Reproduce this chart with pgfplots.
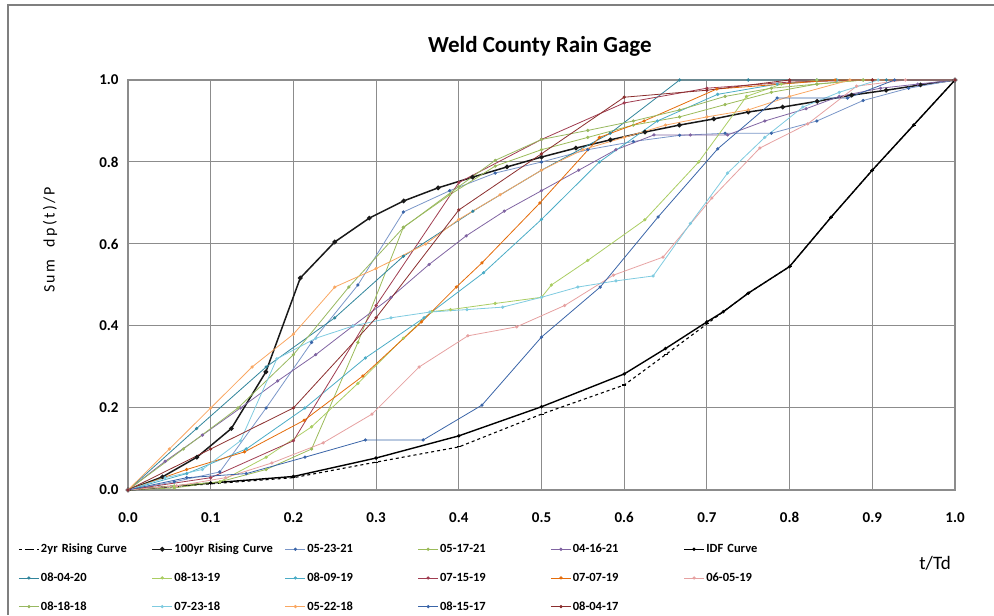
\documentclass[border=0pt]{standalone}
\usepackage{pgfplots}
\pgfplotsset{compat=1.18}
\usepackage{fontspec}
\setmainfont{Carlito}
\definecolor{cA}{HTML}{7A96C8}
\definecolor{cB}{HTML}{9BBB59}
\definecolor{cC}{HTML}{8064A2}
\definecolor{cD}{HTML}{31859C}
\definecolor{cE}{HTML}{AACD62}
\definecolor{cF}{HTML}{4BACC6}
\definecolor{cG}{HTML}{A03C50}
\definecolor{cH}{HTML}{E46C0A}
\definecolor{cI}{HTML}{E6A1A1}
\definecolor{cJ}{HTML}{98B860}
\definecolor{cK}{HTML}{7FCBE0}
\definecolor{cL}{HTML}{F9A762}
\definecolor{cM}{HTML}{3A65A8}
\definecolor{cN}{HTML}{8B2E2E}
\definecolor{gridc}{HTML}{8C8C8C}
\definecolor{framec}{HTML}{7F7F7F}
\begin{document}
\begin{tikzpicture}
\begin{axis}[
  name=main,
  scale only axis, width=827pt, height=410pt,
  xmin=0, xmax=1, ymin=0, ymax=1,
  clip=false,
  xtick={0,0.1,...,1.0}, ytick={0,0.2,...,1.0},
  /pgf/number format/assume math mode=true,
  ticklabel style={font=\bfseries\fontsize{15}{17}\selectfont},
  xticklabel style={yshift=-19pt, /pgf/number format/.cd,fixed,fixed zerofill,precision=1},
  yticklabel style={xshift=-6pt, /pgf/number format/.cd,fixed,fixed zerofill,precision=1},
  major tick length=0pt,
  grid=major,
  grid style={gridc, line width=1pt},
  axis line style={gridc, line width=1.2pt},
  title={\bfseries Weld County Rain Gage},
  title style={font=\fontsize{23}{26}\selectfont, at={(rel axis cs:0.498,1.068)}, anchor=center},
  ylabel={Sum\ \ dp(t)/P},
  ylabel style={font=\addfontfeature{LetterSpace=15}\fontsize{16}{18}\selectfont, at={(rel axis cs:-0.0943,0.61)}, anchor=center},
  xlabel={t/Td},
  xlabel style={font=\fontsize{19}{22}\selectfont, at={(rel axis cs:0.976,-0.178)}, anchor=center},
  legend columns=6,
  legend cell align=left,
  legend style={at={(rel axis cs:-0.1364,-0.123)}, anchor=north west, draw=none, fill=none,
    font=\bfseries\fontsize{12.5}{14}\selectfont, row sep=15.5pt,
    nodes={text width=109pt, anchor=west, inner sep=1.5pt}},
  legend image code/.code={\draw[#1, mark repeat=2, mark phase=2] plot coordinates {(0pt,0pt) (10pt,0pt) (20pt,0pt)};},
  every axis plot/.append style={line width=0.8pt, mark=*, mark size=1.2pt},
]
% 2yr Rising Curve
\addplot[black, dashed, line width=1.1pt, mark=-, mark size=2pt, mark options={solid}] coordinates {
(0,0) (0.1,0.015) (0.2,0.03) (0.3,0.068) (0.4,0.105) (0.5,0.185) (0.6,0.256) (0.65,0.33) (0.7,0.405) (0.75,0.48) (0.8,0.545) (0.85,0.665) (0.9,0.78) (0.95,0.89) (1,1)};
% 100yr Rising Curve
\addplot[black!90, line width=1.5pt, mark size=1.5pt] coordinates {
(0,0) (0.0417,0.032) (0.0833,0.08) (0.125,0.15) (0.1667,0.288) (0.2083,0.517) (0.25,0.605) (0.2917,0.663) (0.3333,0.705) (0.375,0.737) (0.4167,0.763) (0.4583,0.788) (0.5,0.812) (0.5417,0.834) (0.5833,0.854) (0.625,0.873) (0.6667,0.89) (0.7083,0.905) (0.75,0.922) (0.7917,0.934) (0.8333,0.948) (0.875,0.963) (0.9167,0.975) (0.9583,0.988) (1,1)};
% 05-23-21
\addplot[cA, mark options={fill=cM,draw=cM}] coordinates {
(0,0) (0.056,0.02) (0.111,0.044) (0.167,0.2) (0.222,0.36) (0.278,0.5) (0.333,0.678) (0.389,0.73) (0.444,0.773) (0.5,0.8) (0.556,0.83) (0.611,0.85) (0.667,0.865) (0.722,0.87) (0.778,0.87) (0.833,0.9) (0.889,0.95) (0.944,0.98) (1,1)};
% 05-17-21
\addplot[cB] coordinates {
(0,0) (0.056,0.005) (0.111,0.02) (0.167,0.05) (0.222,0.1) (0.278,0.36) (0.333,0.641) (0.389,0.72) (0.444,0.79) (0.5,0.83) (0.556,0.86) (0.611,0.89) (0.667,0.91) (0.722,0.94) (0.778,0.97) (0.833,0.99) (0.889,1.0) (1,1)};
% 04-16-21
\addplot[cC] coordinates {
(0,0) (0.045,0.07) (0.09,0.134) (0.136,0.2) (0.181,0.266) (0.227,0.33) (0.272,0.4) (0.318,0.47) (0.364,0.55) (0.409,0.62) (0.455,0.68) (0.5,0.73) (0.545,0.78) (0.59,0.83) (0.636,0.866) (0.68,0.866) (0.725,0.866) (0.77,0.9) (0.82,0.93) (0.86,0.96) (0.91,0.98) (0.955,0.99) (1,1)};
% IDF Curve
\addplot[black, line width=1.4pt, mark size=0.9pt] coordinates {
(0,0) (0.1,0.017) (0.2,0.033) (0.3,0.078) (0.4,0.132) (0.5,0.203) (0.6,0.283) (0.65,0.345) (0.7,0.41) (0.72,0.435) (0.75,0.48) (0.8,0.545) (0.85,0.665) (0.9,0.78) (0.95,0.89) (1,1)};
% 08-04-20
\addplot[cD] coordinates {
(0,0) (0.083,0.15) (0.167,0.3) (0.25,0.42) (0.333,0.57) (0.417,0.68) (0.5,0.78) (0.583,0.87) (0.667,1.0) (0.75,1.0) (0.833,1.0) (0.917,1.0) (1,1)};
% 08-13-19
\addplot[cE] coordinates {
(0,0) (0.056,0.01) (0.111,0.02) (0.167,0.08) (0.222,0.154) (0.278,0.26) (0.333,0.37) (0.367,0.435) (0.39,0.44) (0.444,0.455) (0.5,0.47) (0.512,0.5) (0.556,0.56) (0.625,0.659) (0.69,0.8) (0.748,0.96) (0.79,0.99) (0.833,1.0) (1,1)};
% 08-09-19
\addplot[cF] coordinates {
(0,0) (0.071,0.04) (0.143,0.1) (0.214,0.2) (0.287,0.322) (0.358,0.42) (0.43,0.53) (0.5,0.66) (0.57,0.8) (0.64,0.9) (0.713,0.965) (0.785,0.99) (0.857,1.0) (1,1)};
% 07-15-19
\addplot[cG] coordinates {
(0,0) (0.1,0.03) (0.2,0.12) (0.3,0.45) (0.4,0.75) (0.5,0.855) (0.6,0.944) (0.7,0.98) (0.8,0.995) (0.9,1.0) (1,1)};
% 07-07-19
\addplot[cH] coordinates {
(0,0) (0.071,0.05) (0.141,0.093) (0.213,0.17) (0.284,0.278) (0.355,0.41) (0.397,0.495) (0.428,0.554) (0.498,0.7) (0.57,0.86) (0.624,0.9) (0.712,0.978) (0.855,1.0) (1,1)};
% 06-05-19
\addplot[cI] coordinates {
(0,0) (0.059,0.01) (0.118,0.03) (0.174,0.066) (0.236,0.115) (0.295,0.185) (0.352,0.3) (0.411,0.376) (0.47,0.398) (0.528,0.45) (0.587,0.524) (0.647,0.568) (0.706,0.712) (0.764,0.834) (0.822,0.893) (0.881,0.985) (0.94,1.0) (1,1)};
% 08-18-18
\addplot[cJ] coordinates {
(0,0) (0.067,0.1) (0.133,0.2) (0.2,0.33) (0.267,0.495) (0.333,0.64) (0.4,0.74) (0.444,0.804) (0.5,0.855) (0.556,0.877) (0.611,0.9) (0.667,0.927) (0.722,0.96) (0.778,0.98) (0.833,0.99) (0.889,1.0) (1,1)};
% 07-23-18
\addplot[cK] coordinates {
(0,0) (0.045,0.03) (0.09,0.05) (0.136,0.12) (0.18,0.32) (0.227,0.37) (0.272,0.4) (0.318,0.42) (0.365,0.434) (0.41,0.44) (0.453,0.446) (0.5,0.47) (0.544,0.495) (0.59,0.51) (0.635,0.522) (0.68,0.65) (0.725,0.773) (0.77,0.86) (0.816,0.934) (0.86,0.97) (0.907,1.0) (1,1)};
% 05-22-18
\addplot[cL] coordinates {
(0,0) (0.05,0.1) (0.1,0.2) (0.15,0.3) (0.2,0.38) (0.25,0.495) (0.3,0.54) (0.36,0.6) (0.4,0.66) (0.45,0.72) (0.5,0.78) (0.55,0.83) (0.6,0.86) (0.65,0.89) (0.7,0.91) (0.75,0.927) (0.8,0.96) (0.873,1.0) (1,1)};
% 08-15-17
\addplot[cM] coordinates {
(0,0) (0.071,0.03) (0.143,0.04) (0.214,0.08) (0.287,0.122) (0.357,0.122) (0.428,0.207) (0.5,0.373) (0.571,0.495) (0.641,0.666) (0.713,0.832) (0.785,0.956) (0.87,0.956) (0.927,1.0) (1,1)};
% 08-04-17
\addplot[cN] coordinates {
(0,0) (0.1,0.1) (0.2,0.2) (0.3,0.42) (0.4,0.683) (0.5,0.82) (0.6,0.958) (0.7,0.975) (0.8,1.0) (0.9,1.0) (1,1)};
\legend{2yr Rising Curve, 100yr Rising Curve, 05-23-21, 05-17-21, 04-16-21, IDF Curve, 08-04-20, 08-13-19, 08-09-19, 07-15-19, 07-07-19, 06-05-19, 08-18-18, 07-23-18, 05-22-18, 08-15-17, 08-04-17}
\end{axis}
\useasboundingbox ([shift={(-128pt,-125pt)}]main.south west) rectangle ([shift={(39pt,80pt)}]main.north east);
\draw[framec, line width=2.5pt] ([shift={(-120pt,-125pt)}]main.south west) -- ([shift={(-120pt,75pt)}]main.north west) -- ([shift={(39pt,75pt)}]main.north east);
\end{tikzpicture}
\end{document}
